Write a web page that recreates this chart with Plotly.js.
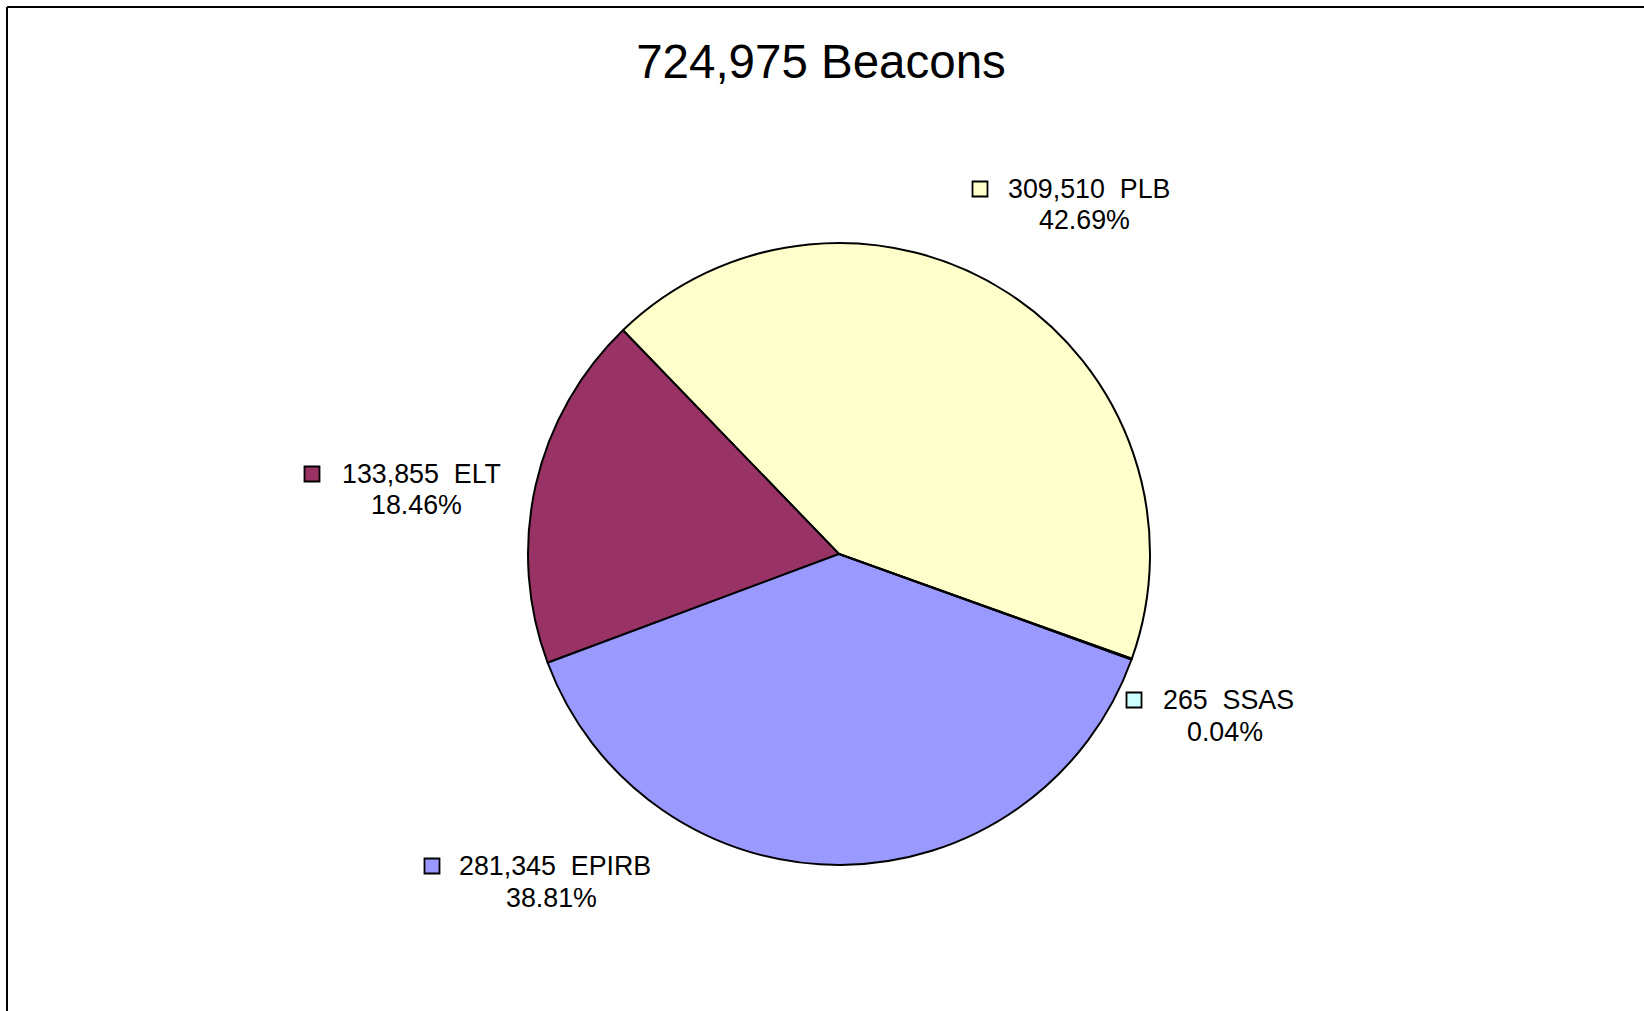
<!DOCTYPE html>
<html>
<head>
<meta charset="utf-8">
<script src="https://cdn.plot.ly/plotly-3.0.1.min.js"></script>
<style>html,body{margin:0;padding:0;background:#fff;}#chart{width:1644px;height:1011px;}</style>
</head>
<body>
<div id="chart"></div>
<script>
// ---- data ----
const labels = ["PLB", "ELT", "EPIRB", "SSAS"];
const values = [309510, 133855, 281345, 265];
const colors = ["#FFFFCC", "#993366", "#9999FF", "#CCFFFF"];

// ---- layout helpers (pixel positions of label blocks) ----
const W = 1644, H = 1011;
const labelPos = [
  {mx: 980, my: 189, t1x: 1089, t1y: 189, t2x: 1084, t2y: 220},
  {mx: 312, my: 474, t1x: 421,  t1y: 474, t2x: 416,  t2y: 505},
  {mx: 432, my: 866, t1x: 555,  t1y: 866, t2x: 551,  t2y: 898},
  {mx: 1134, my: 700, t1x: 1228, t1y: 700, t2x: 1225, t2y: 732}
];
const px = x => x / W;
const py = y => 1 - y / H;

const total = values.reduce((a, b) => a + b, 0);
const fmt = n => n.toLocaleString('en-US');
const FONT = "Liberation Sans, Arial, sans-serif";

const annotations = [];
const shapes = [
  {type: 'line', xref: 'paper', yref: 'paper', x0: px(7), y0: py(7), x1: 1, y1: py(7), line: {color: '#000', width: 2}},
  {type: 'line', xref: 'paper', yref: 'paper', x0: px(7), y0: py(7), x1: px(7), y1: 0, line: {color: '#000', width: 2}}
];
labels.forEach((lab, i) => {
  const p = labelPos[i];
  const pct = (values[i] / total * 100).toFixed(2) + '%';
  annotations.push({xref: 'paper', yref: 'paper', x: px(p.t1x), y: py(p.t1y), xanchor: 'center', yanchor: 'middle',
    text: fmt(values[i]) + '&nbsp;&nbsp;' + lab, showarrow: false, font: {family: FONT, size: 26.8, color: '#000'}});
  annotations.push({xref: 'paper', yref: 'paper', x: px(p.t2x), y: py(p.t2y), xanchor: 'center', yanchor: 'middle',
    text: pct, showarrow: false, font: {family: FONT, size: 26.8, color: '#000'}});
  const s = 7.5;
  shapes.push({type: 'rect', xref: 'paper', yref: 'paper', x0: px(p.mx - s), x1: px(p.mx + s), y0: py(p.my + s), y1: py(p.my - s),
    fillcolor: colors[i], line: {color: '#000', width: 1.8}});
});

const trace = {
  type: 'pie',
  labels: labels,
  values: values,
  sort: false,
  direction: 'counterclockwise',
  rotation: -44,
  textinfo: 'none',
  hoverinfo: 'label+value+percent',
  marker: {colors: colors, line: {color: '#000', width: 2}},
  domain: {x: [px(528), px(1150)], y: [py(865), py(243)]},
  showlegend: false
};

const layout = {
  width: W, height: H,
  margin: {l: 0, r: 0, t: 0, b: 0},
  paper_bgcolor: '#fff',
  plot_bgcolor: '#fff',
  showlegend: false,
  title: {text: fmt(total) + ' Beacons', x: px(821), xanchor: 'center', y: py(61), yanchor: 'middle',
    xref: 'paper', yref: 'container', font: {family: FONT, size: 47.5, color: '#000'}},
  annotations: annotations,
  shapes: shapes
};

Plotly.newPlot('chart', [trace], layout, {displayModeBar: false, staticPlot: true});
</script>
</body>
</html>
